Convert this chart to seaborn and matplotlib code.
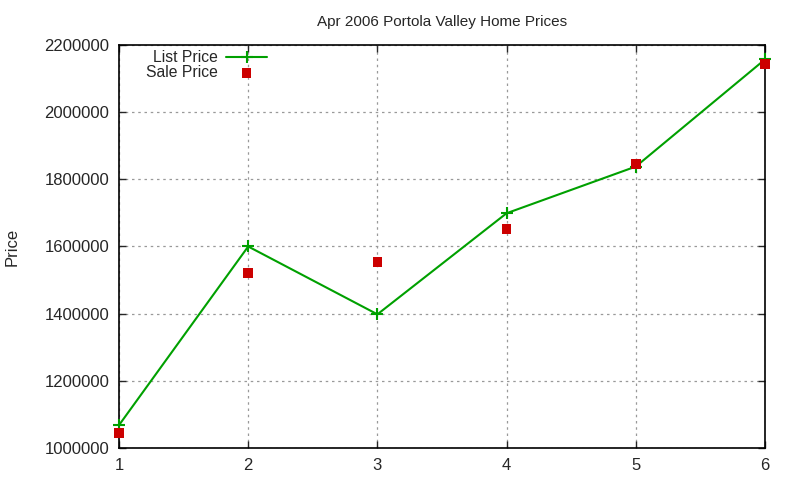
import matplotlib
matplotlib.use("Agg")
import matplotlib.pyplot as plt
import seaborn as sns
import pandas as pd

# listings, Apr 2006
house = [1, 2, 3, 4, 5, 6]
list_price = [1068000, 1600000, 1398000, 1699000, 1838000, 2157000]
sale_price = [1044000, 1521000, 1554000, 1652000, 1846000, 2144000]

df = pd.DataFrame({'house': house, 'list': list_price, 'sale': sale_price})

sns.set_style('ticks')
plt.rcParams['font.family'] = ['Liberation Sans', 'DejaVu Sans']

green = '#00a000'
red = '#cc0000'

fig = plt.figure(figsize=(8, 4.8), dpi=100)
ax = fig.add_axes([0.14875, 0.0667, 0.8075, 0.8396])

sns.lineplot(data=df, x='house', y='list', ax=ax, color=green, lw=1.5,
             marker='+', markersize=9, markeredgewidth=1.5, markeredgecolor=green,
             label='List Price', clip_on=False, zorder=3)
sns.scatterplot(data=df, x='house', y='sale', ax=ax, color=red, marker='s',
                s=48, edgecolor='none', label='Sale Price', zorder=4, clip_on=False)

ax.set_xlim(1, 6)
ax.set_ylim(1000000, 2200000)
ax.set_xticks(house)
ax.set_yticks(range(1000000, 2200001, 200000))
ax.ticklabel_format(axis='y', style='plain', useOffset=False)
ax.tick_params(direction='in', length=5, top=True, right=True, labelsize=12, width=1, pad=7)
ax.grid(True, ls=(0, (2, 3)), color='#999999', lw=0.9)
for s in ax.spines.values():
    s.set_linewidth(1.2)
    s.set_color('black')

ax.set_xlabel('')
ax.set_ylabel('Price', fontsize=12, labelpad=18)
ax.set_title('Apr 2006 Portola Valley Home Prices', fontsize=11, pad=14)

leg = ax.legend(loc='upper right', bbox_to_anchor=(0.229, 0.987), frameon=False,
                markerfirst=False, fontsize=11.3, handlelength=2.6, labelspacing=0.0,
                handletextpad=0.55, borderaxespad=0, borderpad=0)
for t in leg.get_texts():
    t.set_ha('right')
leg._legend_box.align = 'right'

fig.savefig('out.png', dpi=100)
